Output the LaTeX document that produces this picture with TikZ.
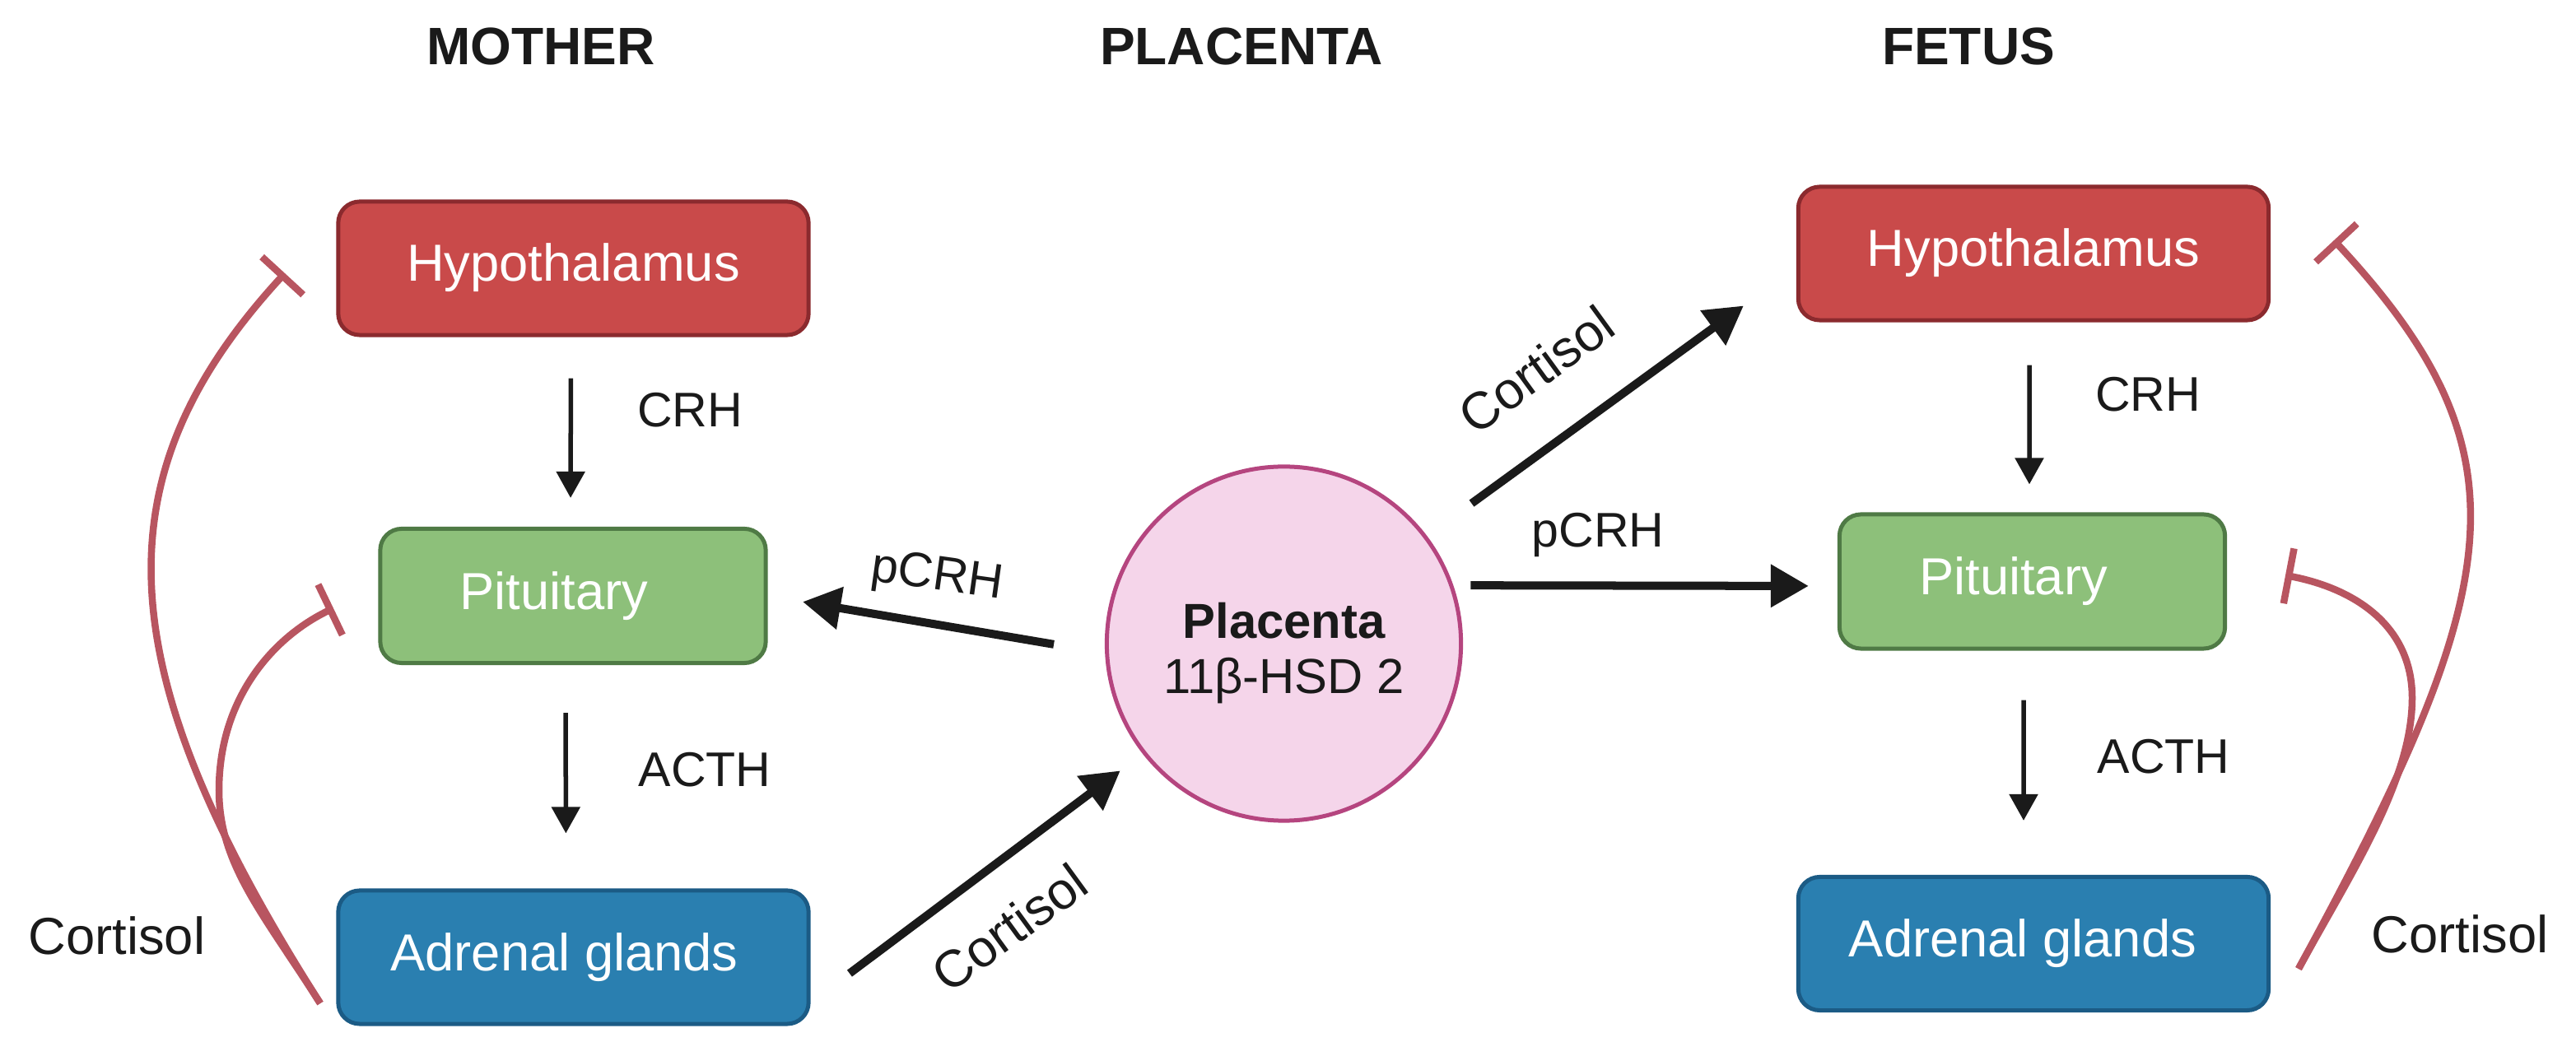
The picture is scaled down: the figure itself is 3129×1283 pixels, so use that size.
\documentclass[tikz,border=0pt]{standalone}
\usepackage{xcolor}
\usepackage{fontspec}
\setmainfont{Liberation Sans}
\usetikzlibrary{arrows.meta}
\definecolor{reddish}{HTML}{C94A4A}
\definecolor{dreddish}{HTML}{8B2A2E}
\definecolor{greenish}{HTML}{8DC07A}
\definecolor{dgreenish}{HTML}{4F7A45}
\definecolor{bluish}{HTML}{2A7FB0}
\definecolor{dbluish}{HTML}{1B5B85}
\definecolor{pinkish}{HTML}{F5D5EA}
\definecolor{dpinkish}{HTML}{B5457F}
\definecolor{inhibit}{HTML}{B85560}
\definecolor{ink}{HTML}{1A1A1A}

\begin{document}
\begin{tikzpicture}[
   x=.01cm, y=-.01cm,
   every node/.append style={font=\fontsize{18}{20}\selectfont, text=ink},
   title/.style={font=\fontsize{18.2}{20}\selectfont\bfseries},
   hormone/.style={font=\fontsize{16.8}{20}\selectfont},
   organ/.style={draw, rounded corners=.26cm, line width=.05cm, text=white,
      text height=.56cm, text depth=.24cm, inner sep=0pt},
   wide/.style={organ, minimum width=5.71cm, minimum height=1.62cm},
   narrow/.style={organ, minimum width=4.68cm, minimum height=1.63cm},
   hypo/.style={wide, fill=reddish, draw=dreddish},
   pit/.style={narrow, fill=greenish, draw=dgreenish},
   adr/.style={wide, fill=bluish, draw=dbluish},
   thinarr/.style={draw=ink, line width=.055cm, -{Triangle[length=.32cm,width=.34cm]}},
   thickarr/.style={draw=ink, line width=.1cm, -{Triangle[length=.46cm,width=.5cm]}},
   block/.style={draw=inhibit, line width=.085cm, -{Bar[width=.68cm]}}
]
\useasboundingbox (0,0) rectangle (3129,1283);

\node[title] (mother) at (657,56) {MOTHER};
\node[title] (placentat) at (1508,56) {PLACENTA};
\node[title] (fetus) at (2391,56) {FETUS};

\node[hypo] (hypoM) at (696.5,326) {Hypothalamus};
\node[pit] (pitM) at (696,724) {\hspace*{-.46cm}Pituitary};
\node[adr] (adrM) at (696.5,1163) {\hspace*{-.22cm}Adrenal glands};

\node[hypo] (hypoR) at (2470,308) {Hypothalamus};
\node[pit] (pitR) at (2468.5,706.5) {\hspace*{-.46cm}Pituitary};
\node[adr] (adrR) at (2470,1146.5) {\hspace*{-.26cm}Adrenal glands};

\node[circle, draw=dpinkish, fill=pinkish, line width=.05cm, minimum size=4.3cm,
   align=center, inner sep=0pt] (placenta) at (1559.5,782)
   {\\[-.04cm]{\fontsize{17}{20}\selectfont\bfseries Placenta}\\[-.04cm]{\fontsize{17}{20}\selectfont 11β-HSD 2}};

\draw[thinarr, shorten <=.5cm, shorten >=.35cm] ([xshift=-.03cm]hypoM.south) -- ([xshift=-.03cm]pitM.north);
\draw[thinarr, shorten <=.58cm, shorten >=.67cm] ([xshift=-.09cm]pitM.south) -- ([xshift=-.09cm]adrM.north);
\draw[thinarr, shorten <=.52cm, shorten >=.34cm] ([xshift=-.05cm]hypoR.south) -- ([xshift=-.035cm]pitR.north);
\draw[thinarr, shorten <=.6cm, shorten >=.66cm] ([xshift=-.105cm]pitR.south) -- ([xshift=-.12cm]adrR.north);

\draw[thickarr, shorten <=.63cm, shorten >=.43cm] (placenta.183) -- (pitM.east);
\draw[thickarr, shorten <=.59cm, shorten >=.34cm] ([yshift=-.55cm]adrM.east) -- (placenta.218);
\draw[thickarr, shorten <=.67cm, shorten >=.79cm] (placenta.37) -- ([yshift=-.17cm]hypoR.west);
\draw[thickarr, shorten <=.21cm, shorten >=.35cm] (placenta.19) -- ([yshift=-.055cm]pitR.west);

\coordinate (srcM) at (389,1219);
\coordinate (barHypoM) at (346,332);
\coordinate (barPitM) at (405,739);
\coordinate (srcR) at (2792,1177);
\coordinate (barHypoR) at (2835,292);
\coordinate (barPitR) at (2776,699);

\draw[block] (srcM) .. controls (132,815) and (116,582) .. (barHypoM);
\draw[block] (srcM) .. controls (319,1109) and (266,1050) .. (266,960)
   .. controls (266,850) and (330,775) .. (barPitM);
\draw[block] (srcR) .. controls (3045,712) and (3077,552) .. (barHypoR);
\draw[block] (srcR) .. controls (2854,1063) and (2930,950) .. (2930,848)
   .. controls (2930,760) and (2860,715) .. (barPitR);

\node[hormone] (crhM) at (838,498) {CRH};
\node[hormone] (acthM) at (856,935) {ACTH};
\node[hormone] (crhR) at (2609,479) {CRH};
\node[hormone] (acthR) at (2628,919) {ACTH};
\node (cortM) at (142,1137) {Cortisol};
\node (cortR) at (2988,1135) {Cortisol};
\node[hormone, rotate=-8] (pcrhL) at (1138,702) {pCRH};
\node[hormone] (pcrhR) at (1941,650) {pCRH};
\node[rotate=36] (cortL) at (1226,1127) {Cortisol};
\node[rotate=36] (cortU) at (1866,449) {Cortisol};
\end{tikzpicture}
\end{document}
